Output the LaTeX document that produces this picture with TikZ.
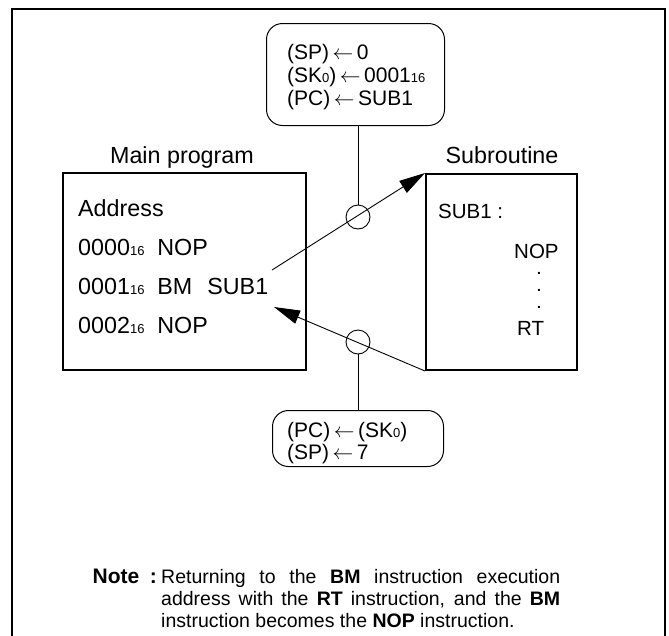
\documentclass[tikz,border=0pt]{standalone}
\usepackage{fontspec}
\setmainfont{Liberation Sans}
\usetikzlibrary{arrows.meta}
\newcommand\lo[1]{{\fontsize{13}{13}\selectfont #1}}
\newcommand\la{\,$\leftarrow$\,}
\begin{document}
\begin{tikzpicture}[x=1pt,y=-1pt,
  bigtxt/.style={font=\fontsize{23.3}{25}\selectfont, inner sep=0pt},
  smtxt/.style={font=\fontsize{21}{22}\selectfont, inner sep=0pt},
  subtxt/.style={font=\fontsize{20.5}{22}\selectfont, inner sep=0pt},
  dottxt/.style={font=\fontsize{14}{14}\selectfont\bfseries, inner sep=0pt, anchor=base},
  notetxt/.style={font=\fontsize{19.5}{22}\selectfont, inner sep=0pt},
  prog/.style={draw, line width=2pt, inner sep=0pt, anchor=north west},
  regbox/.style={draw, line width=1pt, rounded corners=16pt, inner sep=0pt, anchor=north west},
  ring/.style={circle, draw, line width=0.9pt, minimum size=24pt, inner sep=0pt},
  conn/.style={line width=0.9pt},
  arr/.style={conn, -{Triangle[length=26pt,width=14pt]}},
]
\useasboundingbox (0,0) rectangle (669,635);
\draw[line width=2.5pt, line join=miter] (12,636) -- (12,9) -- (665,9) -- (665,636);

% program boxes
\node[prog, minimum width=243pt, minimum height=197pt] (main) at (62,172) {};
\node[prog, minimum width=151pt, minimum height=196pt] (sub) at (425,173) {};
\node[bigtxt, anchor=base] (mainlbl) at (182,163) {Main program};
\node[bigtxt, anchor=base] (sublbl) at (502,163) {Subroutine};

\node[bigtxt, anchor=base west] (addr) at (78,216) {Address};
\node[bigtxt, anchor=base west] (l0) at (78,255) {0000\lo{16}\hspace{0.55em}NOP};
\node[bigtxt, anchor=base west] (l1) at (78,294) {0001\lo{16}\hspace{0.55em}BM\hspace{0.65em}SUB1};
\node[bigtxt, anchor=base west] (l2) at (78,333) {0002\lo{16}\hspace{0.55em}NOP};

\node[subtxt, anchor=base west] (s0) at (438,218) {SUB1 :};
\node[subtxt, anchor=base west] (s1) at (514,258) {NOP};
\node[dottxt] (d1) at (539,274.5) {.};
\node[dottxt] (d2) at (539,291.5) {.};
\node[dottxt] (d3) at (539,308.5) {.};
\node[subtxt, anchor=base west] (s2) at (517,335) {RT};

% register boxes
\node[regbox, minimum width=178pt, minimum height=102pt] (pre) at (266,23) {};
\node[smtxt, anchor=base west] (p1) at (287,59) {(SP)\la 0};
\node[smtxt, anchor=base west] (p2) at (287,82) {(SK\lo{0})\la 0001\lo{16}};
\node[smtxt, anchor=base west] (p3) at (287,105) {(PC)\la SUB1};

\node[regbox, minimum width=171pt, minimum height=56pt] (post) at (272,410) {};
\node[smtxt, anchor=base west] (q1) at (287,437) {(PC)\la (SK\lo{0})};
\node[smtxt, anchor=base west] (q2) at (287,459) {(SP)\la 7};

% rings and connectors
\node[ring] (c1) at (358,217) {};
\node[ring] (c2) at (358,342) {};
\draw[conn] (c1.north |- pre.south) -- (c1.north);
\draw[conn] (c2.south) -- (c2.south |- post.north);

\coordinate (callfrom) at (272,270);
\coordinate (retto) at (274,307);
\draw[arr] (callfrom) -- (sub.north west);
\draw[arr] (sub.south west) -- (retto);

% note
\node[notetxt, anchor=base east, font=\fontsize{21}{22}\selectfont\bfseries] (notelbl) at (157,583) {Note\hspace{0.5em}:};
\node[notetxt, anchor=base west] (n1) at (161,583) {\makebox[399pt][s]{Returning to the \textbf{BM} instruction execution}};
\node[notetxt, anchor=base west] (n2) at (161,605) {\makebox[399pt][s]{address with the \textbf{RT} instruction, and the \textbf{BM}}};
\node[notetxt, anchor=base west] (n3) at (161,627) {instruction becomes the \textbf{NOP} instruction.};
\end{tikzpicture}
\end{document}
